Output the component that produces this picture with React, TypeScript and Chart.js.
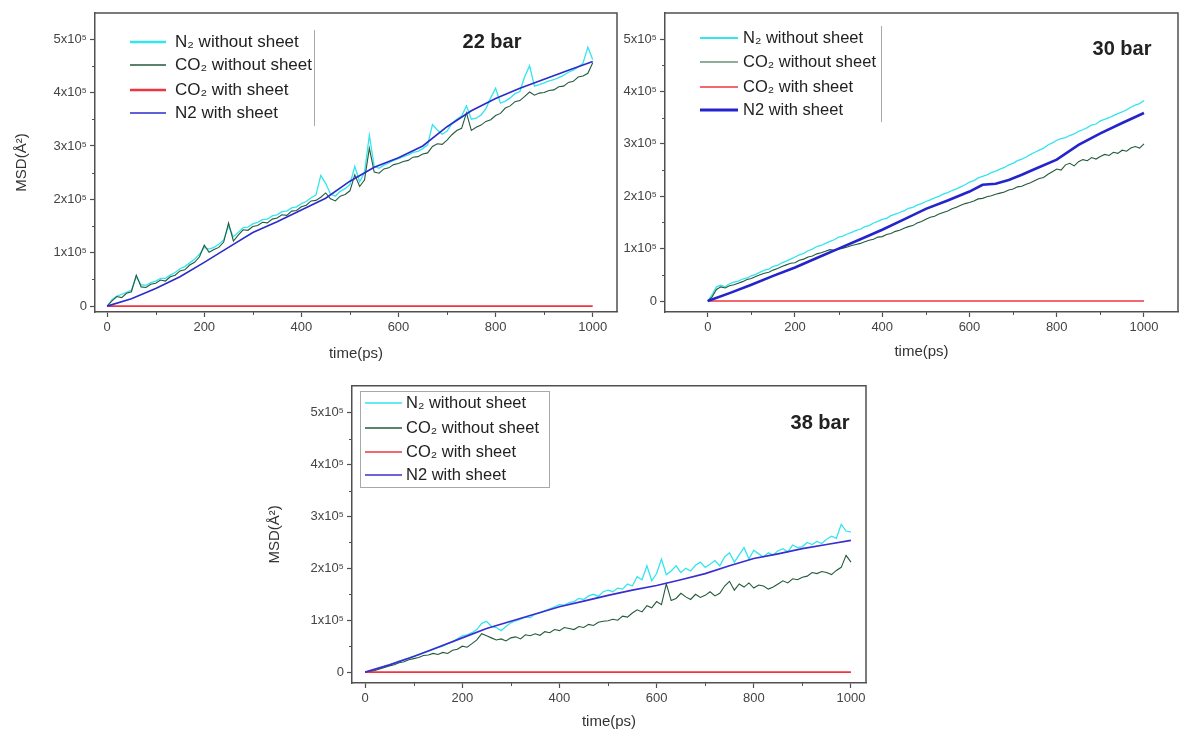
import React, { useEffect, useRef } from "react";
import { Chart, registerables } from "chart.js";

Chart.register(...registerables);

// ---------- DATA (MSD in units of 1x10^5 Å², time in ps) ----------
const TIME = [
  0, 10, 20, 30, 40, 50, 60, 70, 80, 90, 100, 110, 120, 130, 140, 150, 160, 170, 180, 190,
  200, 210, 220, 230, 240, 250, 260, 270, 280, 290, 300, 310, 320, 330, 340, 350, 360, 370, 380, 390,
  400, 410, 420, 430, 440, 450, 460, 470, 480, 490, 500, 510, 520, 530, 540, 550, 560, 570, 580, 590,
  600, 610, 620, 630, 640, 650, 660, 670, 680, 690, 700, 710, 720, 730, 740, 750, 760, 770, 780, 790,
  800, 810, 820, 830, 840, 850, 860, 870, 880, 890, 900, 910, 920, 930, 940, 950, 960, 970, 980, 990, 1000,
];
const TIME_COARSE = [0, 50, 100, 150, 200, 250, 300, 350, 400, 450, 500, 550, 600, 650, 700, 750, 800, 850, 900, 950, 1000];

// 22 bar
const n2Without22 = [
  0.0, 0.12, 0.19, 0.22, 0.26, 0.3, 0.55, 0.4, 0.39, 0.44, 0.47, 0.52, 0.52, 0.58, 0.63, 0.7, 0.74, 0.81, 0.88, 0.97,
  1.1, 1.07, 1.1, 1.16, 1.24, 1.5, 1.3, 1.38, 1.47, 1.48, 1.54, 1.57, 1.62, 1.63, 1.69, 1.71, 1.77, 1.78, 1.84, 1.86,
  1.92, 1.96, 2.03, 2.08, 2.45, 2.3, 2.1, 2.06, 2.15, 2.2, 2.28, 2.62, 2.33, 2.5, 3.2, 2.62, 2.58, 2.64, 2.68, 2.73,
  2.76, 2.8, 2.83, 2.88, 2.9, 2.95, 3.02, 3.4, 3.3, 3.22, 3.28, 3.42, 3.5, 3.56, 3.75, 3.5, 3.52, 3.58, 3.7, 3.9,
  4.08, 3.8, 3.84, 3.9, 3.98, 4.02, 4.3, 4.5, 4.12, 4.15, 4.18, 4.22, 4.24, 4.28, 4.32, 4.38, 4.42, 4.48, 4.55, 4.85, 4.62,
];
const co2Without22 = [
  0.0, 0.1, 0.18, 0.16, 0.24, 0.27, 0.58, 0.36, 0.35, 0.41, 0.43, 0.49, 0.47, 0.55, 0.58, 0.66, 0.68, 0.77, 0.82, 0.92,
  1.14, 1.01, 1.06, 1.1, 1.2, 1.56, 1.22, 1.33, 1.43, 1.42, 1.49, 1.51, 1.57, 1.56, 1.63, 1.65, 1.71, 1.7, 1.78, 1.79,
  1.86, 1.89, 1.97, 1.98, 2.04, 2.12, 2.01, 1.97, 2.06, 2.09, 2.16, 2.46, 2.24, 2.36, 2.96, 2.51, 2.49, 2.57, 2.59, 2.65,
  2.67, 2.71, 2.73, 2.79, 2.8, 2.85, 2.87, 2.99, 3.04, 3.03, 3.11, 3.21, 3.29, 3.33, 3.62, 3.29, 3.35, 3.39, 3.46, 3.49,
  3.57, 3.61, 3.71, 3.75, 3.83, 3.85, 3.93, 4.01, 3.95, 3.99, 4.0, 4.04, 4.05, 4.11, 4.12, 4.19, 4.21, 4.29, 4.31, 4.36, 4.56,
];
const co2With22 = [0, 0, 0, 0, 0, 0, 0, 0, 0, 0, 0, 0, 0, 0, 0, 0, 0, 0, 0, 0, 0];
const n2WithTime22 = TIME_COARSE;
const n2With22 = [0, 0.14, 0.33, 0.55, 0.82, 1.1, 1.38, 1.58, 1.8, 2.02, 2.34, 2.6, 2.78, 3.0, 3.36, 3.66, 3.89, 4.08, 4.25, 4.42, 4.58];

// 30 bar
const n2Without30 = [
  0.0, 0.12, 0.27, 0.3, 0.27, 0.33, 0.36, 0.38, 0.42, 0.44, 0.48, 0.51, 0.55, 0.59, 0.61, 0.66, 0.68, 0.73, 0.76, 0.8,
  0.84, 0.88, 0.91, 0.96, 0.99, 1.04, 1.06, 1.1, 1.14, 1.17, 1.22, 1.24, 1.28, 1.31, 1.35, 1.37, 1.42, 1.44, 1.49, 1.52,
  1.56, 1.58, 1.63, 1.66, 1.69, 1.72, 1.77, 1.79, 1.83, 1.86, 1.9, 1.93, 1.97, 2.0, 2.04, 2.07, 2.11, 2.14, 2.18, 2.22,
  2.27, 2.3, 2.35, 2.38, 2.41, 2.45, 2.48, 2.52, 2.55, 2.6, 2.63, 2.68, 2.71, 2.75, 2.8, 2.84, 2.88, 2.92, 2.98, 3.02,
  3.07, 3.1, 3.12, 3.16, 3.19, 3.24, 3.27, 3.31, 3.36, 3.38, 3.44, 3.47, 3.5, 3.54, 3.58, 3.61, 3.65, 3.7, 3.74, 3.77, 3.83,
];
const co2Without30 = [
  0.0, 0.08, 0.22, 0.27, 0.25, 0.29, 0.31, 0.34, 0.37, 0.41, 0.43, 0.47, 0.5, 0.53, 0.55, 0.59, 0.62, 0.66, 0.69, 0.72,
  0.73, 0.78, 0.8, 0.84, 0.86, 0.9, 0.92, 0.95, 0.98, 0.97, 0.99, 1.01, 1.03, 1.06, 1.08, 1.1, 1.13, 1.16, 1.18, 1.22,
  1.23, 1.27, 1.29, 1.33, 1.35, 1.39, 1.42, 1.44, 1.49, 1.52, 1.56, 1.6, 1.62, 1.66, 1.69, 1.72, 1.76, 1.79, 1.83, 1.86,
  1.88, 1.91, 1.95, 1.96, 1.99, 2.01, 2.04, 2.06, 2.08, 2.12, 2.14, 2.18, 2.19, 2.23, 2.26, 2.3, 2.34, 2.36, 2.42, 2.47,
  2.52, 2.5, 2.6, 2.63, 2.58, 2.66, 2.7, 2.68, 2.74, 2.71, 2.76, 2.8, 2.78, 2.84, 2.82, 2.88, 2.86, 2.92, 2.95, 2.92, 3.0,
];
const co2With30 = [0, 0, 0, 0, 0, 0, 0, 0, 0, 0, 0, 0, 0, 0, 0, 0, 0, 0, 0, 0, 0];
const n2WithTime30 = [0, 50, 100, 150, 200, 250, 300, 350, 400, 450, 500, 550, 600, 630, 660, 690, 720, 750, 800, 850, 900, 950, 1000];
const n2With30 = [0, 0.15, 0.31, 0.48, 0.64, 0.82, 1.0, 1.18, 1.36, 1.56, 1.76, 1.92, 2.09, 2.22, 2.24, 2.31, 2.41, 2.52, 2.7, 2.98, 3.2, 3.4, 3.59];

// 38 bar
const n2Without38 = [
  0.0, 0.02, 0.05, 0.08, 0.11, 0.14, 0.17, 0.21, 0.24, 0.27, 0.31, 0.33, 0.37, 0.4, 0.44, 0.47, 0.5, 0.55, 0.58, 0.64,
  0.7, 0.72, 0.76, 0.82, 0.94, 0.98, 0.88, 0.86, 0.8, 0.88, 0.95, 0.99, 1.02, 1.06, 1.05, 1.12, 1.14, 1.18, 1.22, 1.26,
  1.3, 1.29, 1.34, 1.36, 1.42, 1.4, 1.47, 1.5, 1.46, 1.55, 1.58, 1.55, 1.62, 1.6, 1.7, 1.66, 1.84, 1.78, 2.05, 1.76,
  1.9, 2.18, 1.88, 1.95, 2.05, 1.92, 2.0, 1.95, 2.06, 2.12, 2.02, 2.08, 2.15, 2.05, 2.22, 2.3, 2.12, 2.26, 2.4, 2.18,
  2.35, 2.28, 2.22, 2.3, 2.26, 2.34, 2.38, 2.32, 2.45, 2.4, 2.42, 2.5, 2.46, 2.52, 2.48, 2.56, 2.62, 2.58, 2.85, 2.72, 2.7,
];
const co2Without38 = [
  0.0, 0.01, 0.03, 0.06, 0.09, 0.12, 0.14, 0.18, 0.2, 0.24, 0.26, 0.28, 0.32, 0.33, 0.36, 0.34, 0.38, 0.36, 0.42, 0.44,
  0.5, 0.48, 0.55, 0.62, 0.74, 0.7, 0.66, 0.62, 0.64, 0.6, 0.66, 0.68, 0.64, 0.72, 0.7, 0.74, 0.71, 0.78, 0.76, 0.82,
  0.8, 0.86, 0.84, 0.82, 0.88, 0.86, 0.92, 0.9, 0.96, 0.98, 0.99, 1.02, 1.0, 1.08, 1.06, 1.14, 1.2, 1.16, 1.28, 1.24,
  1.36, 1.3, 1.7, 1.38, 1.42, 1.52, 1.45, 1.4, 1.5, 1.44, 1.48, 1.55, 1.47, 1.52, 1.66, 1.75, 1.58, 1.7, 1.64, 1.72,
  1.62, 1.68, 1.66, 1.6, 1.64, 1.7, 1.76, 1.72, 1.8, 1.78, 1.83, 1.85, 1.92, 1.9, 1.94, 1.92, 1.88, 1.96, 2.02, 2.25, 2.12,
];
const co2With38 = [0, 0, 0, 0, 0, 0, 0, 0, 0, 0, 0, 0, 0, 0, 0, 0, 0, 0, 0, 0, 0];
const n2WithTime38 = TIME_COARSE;
const n2With38 = [0, 0.14, 0.3, 0.48, 0.66, 0.84, 0.98, 1.12, 1.26, 1.37, 1.48, 1.58, 1.67, 1.78, 1.9, 2.05, 2.19, 2.28, 2.38, 2.46, 2.54];

const SERIES_LABELS = ["N\u2082 without sheet", "CO\u2082 without sheet", "CO\u2082 with sheet", "N2 with sheet"];
const PANEL_TITLES = ["22 bar", "30 bar", "38 bar"];
const X_TICKS = [0, 200, 400, 600, 800, 1000];
const X_MINOR = [100, 300, 500, 700, 900];
const Y_TICKS = [0, 1, 2, 3, 4, 5];
const Y_TICK_LABELS = ["0", "1x10\u2075", "2x10\u2075", "3x10\u2075", "4x10\u2075", "5x10\u2075"];
const Y_MINOR = [0.5, 1.5, 2.5, 3.5, 4.5];
const X_TITLE = "time(ps)";
const Y_TITLE = "MSD(\u00c5\u00b2)";

// ---------- STYLE ----------
const C_CYAN = "#34e4ee";
const C_GREEN = "#235a3c";
const C_RED = "#ee3440";
const AXIS = "#505050";
const FONT = "'Liberation Sans', Arial, sans-serif";

type Legend = {
  x0: number; x1: number; tx: number; rows: number[]; font: number;
  frame: "right" | "box"; fx0: number; fy0: number; fx1: number; fy1: number;
  widths: number[];
};

type Panel = {
  left: number; top: number; width: number; height: number;
  yAxisW: number; xAxisH: number; padTop: number; padRight: number;
  xMin: number; xMax: number; yMin: number; yMax: number;
  yTitle: boolean; yTitlePad: number; xTitlePad: number;
  title: string; titleX: number; titleY: number;
  n2Without: number[]; co2Without: number[]; co2With: number[]; n2WithT: number[]; n2With: number[];
  blueW: number; blueColor: string;
  legend: Legend;
};

const PANELS: Panel[] = [
  {
    left: 0, top: 0, width: 630, height: 370, yAxisW: 95, xAxisH: 58, padTop: 13, padRight: 13,
    xMin: -25, xMax: 1050, yMin: -0.11, yMax: 5.49, yTitle: true, yTitlePad: 13, xTitlePad: 7,
    title: PANEL_TITLES[0], titleX: 492, titleY: 42,
    n2Without: n2Without22, co2Without: co2Without22, co2With: co2With22, n2WithT: n2WithTime22, n2With: n2With22,
    blueW: 1.6, blueColor: "#2b2bcc",
    legend: { x0: 130, x1: 166, tx: 175, rows: [42, 65, 90, 113], font: 17, frame: "right", fx0: 314, fy0: 30, fx1: 314, fy1: 126, widths: [2.5, 1.5, 2.5, 1.6] },
  },
  {
    left: 615, top: 0, width: 567, height: 370, yAxisW: 50, xAxisH: 58, padTop: 13, padRight: 4,
    xMin: -98, xMax: 1078, yMin: -0.21, yMax: 5.5, yTitle: false, yTitlePad: 0, xTitlePad: 9,
    title: PANEL_TITLES[1], titleX: 1122, titleY: 49,
    n2Without: n2Without30, co2Without: co2Without30, co2With: co2With30, n2WithT: n2WithTime30, n2With: n2With30,
    blueW: 2.6, blueColor: "#2424cc",
    legend: { x0: 700, x1: 738, tx: 743, rows: [38, 62, 87, 110], font: 16.5, frame: "right", fx0: 881, fy0: 26, fx1: 881, fy1: 122, widths: [2, 1.2, 1.6, 3] },
  },
  {
    left: 250, top: 375, width: 630, height: 361, yAxisW: 102, xAxisH: 53, padTop: 10, padRight: 14,
    xMin: -27, xMax: 1031, yMin: -0.21, yMax: 5.52, yTitle: true, yTitlePad: 16, xTitlePad: 5,
    title: PANEL_TITLES[2], titleX: 820, titleY: 423,
    n2Without: n2Without38, co2Without: co2Without38, co2With: co2With38, n2WithT: n2WithTime38, n2With: n2With38,
    blueW: 1.7, blueColor: "#3a2ed0",
    legend: { x0: 365, x1: 402, tx: 406, rows: [403, 428, 452, 475], font: 16.5, frame: "box", fx0: 360, fy0: 391, fx1: 549, fy1: 487, widths: [1.6, 1.6, 1.6, 1.6] },
  },
];

function makePlugin(p: Panel) {
  return {
    id: "decor",
    afterDraw(chart: any) {
      const ctx = chart.ctx as CanvasRenderingContext2D;
      const a = chart.chartArea;
      const xs = chart.scales.x;
      const ys = chart.scales.y;
      ctx.save();
      // frame (top & right)
      ctx.strokeStyle = AXIS;
      ctx.lineWidth = 1.5;
      ctx.beginPath();
      ctx.moveTo(a.left, a.top);
      ctx.lineTo(a.right, a.top);
      ctx.lineTo(a.right, a.bottom);
      ctx.stroke();
      // minor ticks
      ctx.lineWidth = 1;
      ctx.beginPath();
      X_MINOR.forEach((v) => {
        const px = Math.round(xs.getPixelForValue(v)) + 0.5;
        ctx.moveTo(px, a.bottom);
        ctx.lineTo(px, a.bottom + 3);
      });
      Y_MINOR.forEach((v) => {
        const py = Math.round(ys.getPixelForValue(v)) + 0.5;
        ctx.moveTo(a.left - 3, py);
        ctx.lineTo(a.left, py);
      });
      ctx.stroke();
      // legend
      const L = p.legend;
      const ox = p.left;
      const oy = p.top;
      const colors = [C_CYAN, C_GREEN, C_RED, p.blueColor];
      ctx.strokeStyle = "#a8a8a8";
      ctx.lineWidth = 1;
      if (L.frame === "box") {
        ctx.strokeRect(L.fx0 - ox + 0.5, L.fy0 - oy + 0.5, L.fx1 - L.fx0, L.fy1 - L.fy0);
      } else {
        ctx.beginPath();
        ctx.moveTo(L.fx0 - ox + 0.5, L.fy0 - oy);
        ctx.lineTo(L.fx1 - ox + 0.5, L.fy1 - oy);
        ctx.stroke();
      }
      SERIES_LABELS.forEach((lab, i) => {
        const y = L.rows[i] - oy;
        ctx.strokeStyle = colors[i];
        ctx.lineWidth = L.widths[i];
        ctx.beginPath();
        ctx.moveTo(L.x0 - ox, y);
        ctx.lineTo(L.x1 - ox, y);
        ctx.stroke();
        ctx.fillStyle = "#222";
        ctx.font = `${L.font}px ${FONT}`;
        ctx.textAlign = "left";
        ctx.textBaseline = "middle";
        ctx.fillText(lab, L.tx - ox, y);
      });
      // panel title
      ctx.fillStyle = "#222";
      ctx.font = `bold 20px ${FONT}`;
      ctx.textAlign = "center";
      ctx.textBaseline = "middle";
      ctx.fillText(p.title, p.titleX - ox, p.titleY - oy);
      ctx.restore();
    },
  };
}

function PanelChart({ p }: { p: Panel }) {
  const ref = useRef<HTMLCanvasElement | null>(null);
  useEffect(() => {
    if (!ref.current) return;
    const pts = (t: number[], v: number[]) => t.map((x, i) => ({ x, y: v[i] }));
    const chart = new Chart(ref.current, {
      type: "line",
      data: {
        datasets: [
          { label: SERIES_LABELS[0], data: pts(TIME, p.n2Without), borderColor: C_CYAN, borderWidth: 1.3, order: 3 },
          { label: SERIES_LABELS[1], data: pts(TIME, p.co2Without), borderColor: C_GREEN, borderWidth: 1.1, order: 2 },
          { label: SERIES_LABELS[2], data: pts(TIME_COARSE, p.co2With), borderColor: C_RED, borderWidth: 1.6, order: 1 },
          { label: SERIES_LABELS[3], data: pts(p.n2WithT, p.n2With), borderColor: p.blueColor, borderWidth: p.blueW, order: 0 },
        ],
      },
      options: {
        animation: false,
        responsive: false,
        maintainAspectRatio: false,
        devicePixelRatio: 1,
        layout: { padding: { top: p.padTop, right: p.padRight, left: 0, bottom: 0 } },
        plugins: { legend: { display: false }, tooltip: { enabled: false }, title: { display: false } },
        elements: { point: { radius: 0 }, line: { tension: 0, fill: false } },
        scales: {
          x: {
            type: "linear",
            min: p.xMin,
            max: p.xMax,
            afterFit: (s: any) => { s.height = p.xAxisH; },
            afterBuildTicks: (s: any) => { s.ticks = X_TICKS.map((v) => ({ value: v })); },
            ticks: { font: { family: FONT, size: 13 }, color: "#444", padding: 3, maxRotation: 0, autoSkip: false, callback: (v: any) => String(v) },
            grid: { display: true, drawOnChartArea: false, drawTicks: true, tickLength: 5, tickWidth: 1.2, tickColor: AXIS, color: AXIS },
            border: { display: true, color: AXIS, width: 1.5 },
            title: { display: true, text: X_TITLE, font: { family: FONT, size: 15 }, color: "#333", padding: { top: 0, bottom: p.xTitlePad } },
          },
          y: {
            type: "linear",
            min: p.yMin,
            max: p.yMax,
            afterFit: (s: any) => { s.width = p.yAxisW; },
            afterBuildTicks: (s: any) => { s.ticks = Y_TICKS.map((v) => ({ value: v })); },
            ticks: {
              font: { family: FONT, size: 13 }, color: "#444", padding: 3, autoSkip: false,
              callback: (v: any) => Y_TICK_LABELS[Y_TICKS.indexOf(v)] ?? "",
            },
            grid: { display: true, drawOnChartArea: false, drawTicks: true, tickLength: 5, tickWidth: 1.2, tickColor: AXIS, color: AXIS },
            border: { display: true, color: AXIS, width: 1.5 },
            title: { display: p.yTitle, text: Y_TITLE, font: { family: FONT, size: 15 }, color: "#333", padding: { top: p.yTitlePad, bottom: 0 } },
          },
        },
      } as any,
      plugins: [makePlugin(p)],
    });
    return () => chart.destroy();
  }, [p]);
  return (
    <canvas
      ref={ref}
      width={p.width}
      height={p.height}
      style={{ position: "absolute", left: p.left, top: p.top, width: p.width, height: p.height }}
    />
  );
}

export default function App() {
  return (
    <div style={{ position: "absolute", left: 0, top: 0, width: 1182, height: 736, background: "#ffffff", overflow: "hidden" }}>
      {PANELS.map((p, i) => (
        <PanelChart key={i} p={p} />
      ))}
    </div>
  );
}
